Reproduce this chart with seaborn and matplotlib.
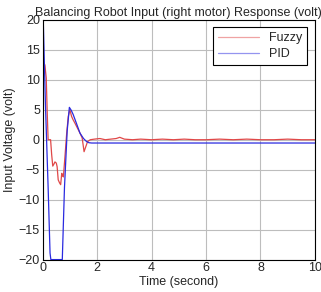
import matplotlib
matplotlib.use("Agg")
import matplotlib.pyplot as plt
import seaborn as sns
import pandas as pd

# Valores
tempo_fuzzy = [0.0, 0.03, 0.08, 0.13, 0.17, 0.2, 0.29, 0.33, 0.37, 0.42, 0.45, 0.5, 0.53,
               0.57, 0.62, 0.66, 0.7, 0.73, 0.76, 0.82, 0.88, 0.94, 1.0, 1.06, 1.12, 1.18,
               1.27, 1.37, 1.45, 1.52, 1.58, 1.65, 1.75, 1.9, 2.1, 2.3, 2.5, 2.7, 2.83,
               3.0, 3.3, 3.6, 4.0, 4.4, 4.8, 5.2, 5.6, 6.0, 6.5, 7.0, 7.5, 8.0, 8.5, 9.0,
               9.5, 10.0]
volt_fuzzy = [10.3, 12.7, 12.5, 10.3, 4.0, 0.0, 0.0, -2.5, -4.4, -4.0, -3.7, -3.9, -4.5,
              -6.7, -7.2, -7.5, -5.6, -6.0, -6.2, -2.7, 1.0, 3.9, 5.0, 3.9, 3.3, 2.8,
              2.0, 1.1, 0.3, -2.0, -1.2, -0.3, 0.0, 0.1, 0.2, 0.0, 0.1, 0.2, 0.4,
              0.1, 0.0, 0.1, 0.0, 0.1, 0.0, 0.1, 0.0, 0.0, 0.1, 0.0, 0.1, 0.0, 0.0, 0.1,
              0.0, 0.0]

tempo_pid = [0.0, 0.02, 0.1, 0.2, 0.27, 0.3, 0.72, 0.8, 0.9, 0.98, 1.05, 1.12, 1.25, 1.37,
             1.5, 1.61, 1.7, 1.8, 2.0, 4.0, 6.0, 8.0, 10.0]
volt_pid = [20.0, 20.0, 6.0, -8.0, -18.9, -20.0, -20.0, -8.0, 1.5, 5.4, 4.9, 4.2, 2.6, 1.1,
            0.2, -0.3, -0.5, -0.55, -0.55, -0.55, -0.55, -0.55, -0.55]

df = pd.concat([
    pd.DataFrame({"Tempo": tempo_fuzzy, "Tensao": volt_fuzzy, "Controle": "Fuzzy"}),
    pd.DataFrame({"Tempo": tempo_pid, "Tensao": volt_pid, "Controle": "PID"}),
])

sns.set_style("whitegrid")
plt.rcParams["font.family"] = ["Liberation Sans", "DejaVu Sans"]

fig = plt.figure(figsize=(3.21, 2.92), dpi=100)
ax = fig.add_axes([0.133, 0.111, 0.848, 0.821])
sns.lineplot(data=df, x="Tempo", y="Tensao", hue="Controle",
             palette={"Fuzzy": "#e04848", "PID": "#2a2ae0"}, linewidth=0.9,
             estimator=None, sort=False, ax=ax)

ax.set_xlim(0, 10)
ax.set_ylim(-20, 20)
ax.set_xticks([0, 2, 4, 6, 8, 10])
ax.set_yticks(range(-20, 21, 5))
ax.grid(True, color="#bdbdbd", linewidth=0.8)
for s in ax.spines.values():
    s.set_color("black")
    s.set_linewidth(0.8)
ax.tick_params(labelsize=9, length=0, pad=2)
ax.set_title("Balancing Robot Input (right motor) Response (volt)", fontsize=9, pad=3)
ax.set_xlabel("Time (second)", fontsize=9, labelpad=1)
ax.set_ylabel("Input Voltage (volt)", fontsize=9, labelpad=2)

leg = ax.legend(loc="upper right", fontsize=9, frameon=True, fancybox=False,
                handlelength=3.3, borderaxespad=0.6, borderpad=0.4, labelspacing=0.3)
leg.get_frame().set_edgecolor("black")
leg.get_frame().set_linewidth(0.8)
leg.get_frame().set_alpha(1)
for h in leg.get_lines():
    h.set_alpha(0.5)

fig.savefig("out.png", dpi=100)
